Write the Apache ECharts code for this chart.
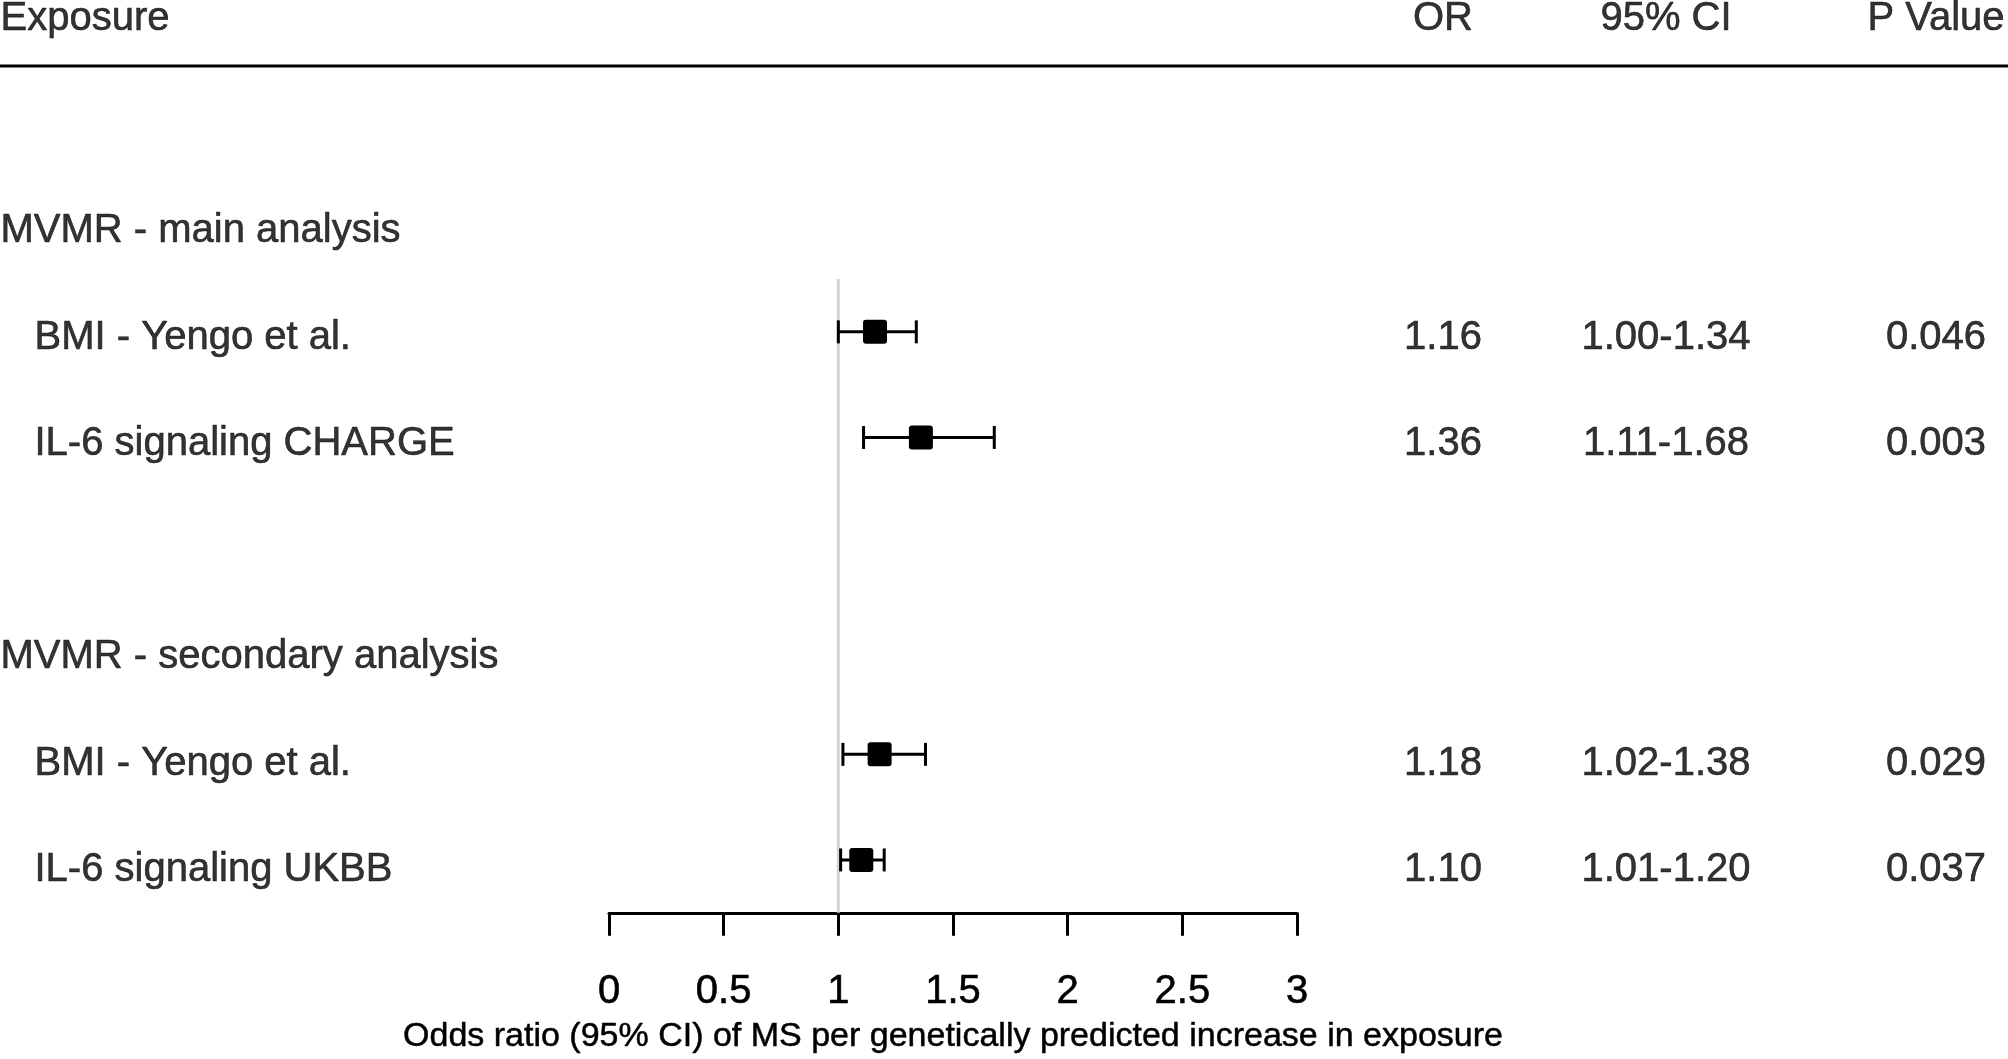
<!DOCTYPE html>
<html>
<head>
<meta charset="utf-8">
<script src="https://cdn.jsdelivr.net/npm/echarts@6/dist/echarts.min.js"></script>
<style>
  html, body { margin: 0; padding: 0; background: #fff; }
  #forest { width: 2008px; height: 1059px; }
</style>
</head>
<body>
<div id="forest"></div>
<script>
// 表头
var headers = ['Exposure', 'OR', '95% CI', 'P Value'];
// 行标签和所在行号（0 = 表头行）
var rowLabels = ['MVMR - main analysis', 'BMI - Yengo et al.', 'IL-6 signaling CHARGE',
	'MVMR - secondary analysis', 'BMI - Yengo et al.', 'IL-6 signaling UKBB'];
var labelRows = [2, 3, 4, 6, 7, 8];
var isGroup = [true, false, false, true, false, false];
// 估计值
var estRows = [3, 4, 7, 8];
var orVals = [1.16, 1.36, 1.18, 1.10];
var ciLow = [1.00, 1.11, 1.02, 1.01];
var ciHigh = [1.34, 1.68, 1.38, 1.20];
var pVals = ['0.046', '0.003', '0.029', '0.037'];
// 参考线
var refValue = 1;
var refRows = [2.5, 8.5];
// x轴
var xMin = 0, xMax = 3, xStep = 0.5;
var xTitle = 'Odds ratio (95% CI) of MS per genetically predicted increase in exposure';

var FONT = 'Liberation Sans, Arial, sans-serif';
var TOP = 15, ROW_H = 106.5, NROWS = 8.5;

var chart = echarts.init(document.getElementById('forest'));

// 每一列一个grid
var cols = [
	{ left: 0, width: 560 },
	{ left: 609, width: 688 },
	{ left: 1393, width: 100 },
	{ left: 1566, width: 200 },
	{ left: 1886, width: 100 }
];
var grids = cols.map(function (c) {
	return { left: c.left, width: c.width, top: TOP, height: ROW_H * NROWS };
});
var yAxes = cols.map(function (c, i) {
	return { gridIndex: i, type: 'value', min: 0, max: NROWS, inverse: true, show: false };
});
var xAxes = cols.map(function (c, i) {
	if (i === 1) {
		return {
			gridIndex: 1, type: 'value', position: 'bottom', min: xMin, max: xMax, interval: xStep,
			splitLine: { show: false },
			axisLine: { show: true, onZero: false, lineStyle: { color: '#000', width: 3 } },
			axisTick: { show: true, length: 23, lineStyle: { color: '#000', width: 3 } },
			axisLabel: { fontSize: 40, color: '#000', fontFamily: FONT, margin: 59,
				textBorderColor: '#000', textBorderWidth: 0.6 },
			name: xTitle, nameLocation: 'middle', nameGap: 107,
			nameTextStyle: { fontSize: 34, color: '#000', fontFamily: FONT,
				textBorderColor: '#000', textBorderWidth: 0.5 }
		};
	}
	return { gridIndex: i, type: 'value', min: 0, max: 1, show: false };
});

// 文字列
function textSeries(idx, items, align) {
	return {
		type: 'scatter', xAxisIndex: idx, yAxisIndex: idx,
		symbolSize: 1, silent: true,
		itemStyle: { color: 'rgba(0,0,0,0)' },
		label: {
			show: true, position: align === 'left' ? 'right' : 'inside', distance: 0,
			offset: [0, 3],
			fontSize: 40, color: '#000', fontFamily: FONT,
			textBorderColor: '#000', textBorderWidth: 0.6,
			formatter: function (p) { return p.data.text; }
		},
		data: items
	};
}

var labelItems = [{ value: [0, 0], text: headers[0], label: { offset: [0, 4] } }];
for (var i = 0; i < rowLabels.length; i++) {
	labelItems.push({
		value: [0, labelRows[i]], text: rowLabels[i],
		label: { offset: [isGroup[i] ? 0 : 34, 3] }
	});
}
var orItems = [{ value: [0.5, 0], text: headers[1], label: { offset: [0, 4] } }];
var ciItems = [{ value: [0.5, 0], text: headers[2], label: { offset: [0, 4] } }];
var pItems = [{ value: [0.5, 0], text: headers[3], label: { offset: [0, 4] } }];
var forestData = [];
for (var j = 0; j < estRows.length; j++) {
	orItems.push({ value: [0.5, estRows[j]], text: orVals[j].toFixed(2) });
	ciItems.push({ value: [0.5, estRows[j]], text: ciLow[j].toFixed(2) + '-' + ciHigh[j].toFixed(2) });
	pItems.push({ value: [0.5, estRows[j]], text: pVals[j] });
	forestData.push([orVals[j], ciLow[j], ciHigh[j], estRows[j]]);
}

var option = {
	backgroundColor: '#fff',
	animation: false,
	grid: grids,
	xAxis: xAxes,
	yAxis: yAxes,
	graphic: [{
		type: 'line', shape: { x1: 0, y1: 66, x2: 2008, y2: 66 },
		style: { stroke: '#000', lineWidth: 3 }
	}],
	series: [
		textSeries(0, labelItems, 'left'),
		textSeries(2, orItems),
		textSeries(3, ciItems),
		textSeries(4, pItems),
		{
			type: 'line', xAxisIndex: 1, yAxisIndex: 1, symbol: 'none', silent: true, z: 1,
			lineStyle: { color: '#d3d3d3', width: 3 },
			data: [[refValue, refRows[0]], [refValue, refRows[1]]]
		},
		{
			type: 'custom', xAxisIndex: 1, yAxisIndex: 1, z: 3, silent: true,
			encode: { x: [0, 1, 2], y: 3 },
			renderItem: function (params, api) {
				var c = api.coord([api.value(0), api.value(3)]);
				var l = api.coord([api.value(1), api.value(3)]);
				var r = api.coord([api.value(2), api.value(3)]);
				var cap = 11.5, box = 12;
				var st = { stroke: '#000', lineWidth: 3 };
				return {
					type: 'group',
					children: [
						{ type: 'line', shape: { x1: l[0], y1: l[1], x2: r[0], y2: r[1] }, style: st },
						{ type: 'line', shape: { x1: l[0], y1: l[1] - cap, x2: l[0], y2: l[1] + cap }, style: st },
						{ type: 'line', shape: { x1: r[0], y1: r[1] - cap, x2: r[0], y2: r[1] + cap }, style: st },
						{ type: 'rect', shape: { x: c[0] - box, y: c[1] - box, width: box * 2, height: box * 2, r: 3 },
							style: { fill: '#000' } }
					]
				};
			},
			data: forestData
		}
	]
};
chart.setOption(option);
</script>
</body>
</html>
